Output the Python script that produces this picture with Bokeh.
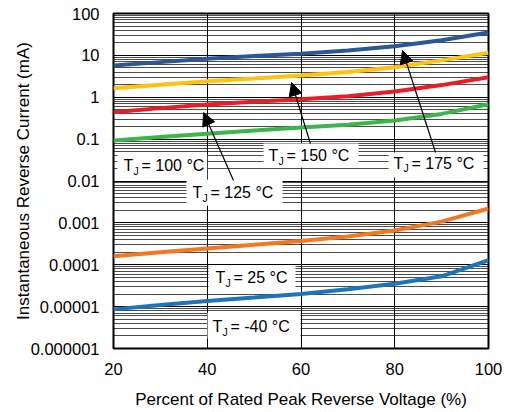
from bokeh.plotting import figure
from bokeh.models import (Range1d, FixedTicker, BoxAnnotation, Label, Arrow,
                          NormalHead)
from bokeh.embed import file_html
from bokeh.resources import INLINE

# ---------------- data ----------------
pct = [20, 30, 40, 50, 60, 70, 80, 90, 100]

i_175 = [5.7, 6.9, 8.3, 9.6, 11.0, 13.0, 16.6, 23.0, 35.0]
i_150 = [1.65, 2.0, 2.4, 2.8, 3.3, 4.0, 5.2, 7.6, 11.5]
i_125 = [0.44, 0.55, 0.67, 0.78, 0.9, 1.05, 1.37, 1.95, 3.0]
i_100 = [0.093, 0.112, 0.134, 0.16, 0.19, 0.22, 0.28, 0.40, 0.68]
i_25 = [1.6e-4, 2.0e-4, 2.45e-4, 3.0e-4, 3.7e-4, 4.7e-4, 6.6e-4, 1.07e-3, 2.2e-3]
i_m40 = [8.6e-6, 1.1e-5, 1.37e-5, 1.65e-5, 2.0e-5, 2.6e-5, 3.5e-5, 5.3e-5, 1.28e-4]

series_values = [i_175, i_150, i_125, i_100, i_25, i_m40]
series_colors = ["#2B579A", "#FFC20E", "#ED1C24", "#3DB54A", "#F47721", "#1C75BC"]

x_ticks = [20, 40, 60, 80, 100]
x_tick_labels = ["20", "40", "60", "80", "100"]
y_ticks = [1e-6, 1e-5, 1e-4, 1e-3, 1e-2, 1e-1, 1.0, 10.0, 100.0]
y_tick_labels = ["0.000001", "0.00001", "0.0001", "0.001", "0.01", "0.1",
                 "1", "10", "100"]
y_minor = [m * d for d in y_ticks[:-1] for m in range(2, 10)]

temp_labels = ["100 °C", "125 °C", "150 °C", "175 °C", "25 °C", "-40 °C"]

FONT = "Liberation Sans"

p = figure(width=508, height=412, y_axis_type="log",
           x_range=Range1d(20, 100), y_range=Range1d(1e-6, 100),
           output_backend="svg", toolbar_location=None,
           min_border_left=113, min_border_right=20,
           min_border_top=13, min_border_bottom=64)
p.background_fill_color = "white"
p.border_fill_color = "white"
p.outline_line_color = "black"
p.outline_line_width = 2

# axes
p.xaxis.ticker = FixedTicker(ticks=x_ticks)
p.xaxis.major_label_overrides = dict(zip(x_ticks, x_tick_labels))
p.yaxis.ticker = FixedTicker(ticks=y_ticks, minor_ticks=y_minor)
p.yaxis.major_label_overrides = dict(zip(y_ticks, y_tick_labels))
for ax in (p.xaxis, p.yaxis):
    ax.major_tick_out = 0
    ax.major_tick_in = 0
    ax.minor_tick_out = 0
    ax.minor_tick_in = 0
    ax.axis_line_color = None
    ax.major_label_text_font = FONT
    ax.major_label_text_font_size = "16.5px"
    ax.major_label_text_color = "black"
    ax.axis_label_text_font = FONT
    ax.axis_label_text_font_size = "17px"
    ax.axis_label_text_font_style = "normal"
    ax.axis_label_text_color = "black"
p.xaxis.major_label_standoff = 14
p.yaxis.major_label_standoff = 14
p.xaxis.axis_label_standoff = 12
p.yaxis.axis_label_standoff = -5
p.xaxis.axis_label = "Percent of Rated Peak Reverse Voltage (%)"
p.yaxis.axis_label = "Instantaneous Reverse Current (mA)"

# grid
p.xgrid.grid_line_color = "black"
p.xgrid.grid_line_width = 1
p.ygrid.grid_line_color = "black"
p.ygrid.grid_line_width = 1.2
p.ygrid.minor_grid_line_color = "black"
p.ygrid.minor_grid_line_alpha = 0.7
p.ygrid.minor_grid_line_width = 1

# curves
for vals, col in zip(series_values, series_colors):
    p.line(pct, vals, line_color=col, line_width=4)

# label boxes and texts (annotation placement)
boxes = [
    (20.85, 40.0, 0.0429, 0.01148),
    (35.57, 56.05, 0.01086, 0.0026),
    (52.0, 72.27, 0.0787, 0.0210),
    (78.67, 98.93, 0.048, 0.01213),
    (40.27, 58.83, 9.6e-5, 2.43e-5),
    (40.05, 59.89, 7.24e-6, 1.73e-6),
]
anchors = [
    (22.13, 0.0234),
    (36.85, 0.00531),
    (53.07, 0.0406),
    (79.73, 0.0262),
    (41.76, 4.96e-5),
    (41.12, 3.35e-6),
]
for (l, r, t, b) in boxes:
    p.add_layout(BoxAnnotation(left=l, right=r, top=t, bottom=b,
                               fill_color="white", fill_alpha=1.0,
                               line_color=None))
for (ax_, ay_), txt in zip(anchors, temp_labels):
    common = dict(text_font=FONT, text_color="black", text_baseline="middle")
    p.add_layout(Label(x=ax_, y=ay_, text="T", text_font_size="16px", **common))
    p.add_layout(Label(x=ax_, y=ay_, x_offset=10, y_offset=-5, text="J",
                       text_font_size="10.5px", **common))
    p.add_layout(Label(x=ax_, y=ay_, x_offset=18, text="= " + txt,
                       text_font_size="16px", **common))

# arrows
arrows = [
    (45.6, 0.01028, 39.2, 0.4325),
    (62.0, 0.0786, 58.0, 2.25),
    (88.7, 0.048, 81.65, 13.07),
]
for xs, ys, xe, ye in arrows:
    p.add_layout(Arrow(x_start=xs, y_start=ys, x_end=xe, y_end=ye,
                       line_color="black", line_width=1.2,
                       end=NormalHead(size=13, fill_color="black",
                                      line_color="black", line_width=1)))

open("out.html", "w").write(file_html(p, INLINE))
